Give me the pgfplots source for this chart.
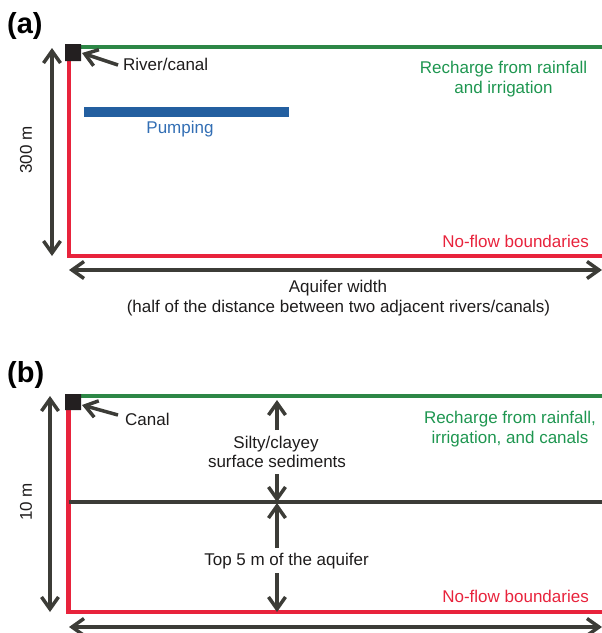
\documentclass[border=0pt]{standalone}
\usepackage{pgfplots}
\pgfplotsset{compat=1.18}
\usepackage{fontspec}
\setmainfont{Liberation Sans}
\usetikzlibrary{arrows.meta}
\definecolor{lgreen}{RGB}{45,135,70}
\definecolor{tgreen}{RGB}{30,150,80}
\definecolor{lred}{RGB}{232,35,60}
\definecolor{lblue}{RGB}{35,95,160}
\definecolor{tblue}{RGB}{50,110,180}
\definecolor{dark}{RGB}{60,60,55}
\definecolor{sq}{RGB}{35,31,32}
\definecolor{txt}{RGB}{30,28,28}
\tikzset{barb/.tip={Straight Barb[length=12pt,width=17pt]},
  lab/.style={font=\fontsize{17}{20}\selectfont, inner sep=0pt, text=txt},
  big/.style={font=\fontsize{29}{32}\selectfont\bfseries, inner sep=0pt, text=black}}
\begin{document}
\begin{tikzpicture}
\begin{axis}[hide axis, scale only axis, width=602pt, height=633pt,
  xmin=0, xmax=602, ymin=0, ymax=633, y dir=reverse, clip=false]
\coordinate (SW) at (axis cs:0,633);
\coordinate (NE) at (axis cs:602,0);
% ---------- panel (a) ----------
\node[big, anchor=base west] at (axis cs:7,33) {(a)};
\addplot[draw=lgreen, line width=4pt] coordinates {(81,47) (602,47)};
\addplot[draw=lred, line width=4.5pt, line join=miter] coordinates {(69,61) (69,256) (602,256)};
\addplot[fill=sq, draw=none] coordinates {(65,44) (81,44) (81,61) (65,61) (65,44)};
\addplot[draw=lblue, line width=10pt] coordinates {(84,112) (289,112)};
\addplot[draw=dark, line width=3.5pt, barb-barb] coordinates {(52,48) (52,256)};
\addplot[draw=dark, line width=3.5pt, barb-barb] coordinates {(69,270) (602,270)};
\addplot[draw=dark, line width=3.5pt, -barb] coordinates {(118,65) (82,53)};
\node[lab, anchor=base west] at (axis cs:123,70) {River/canal};
\node[lab, anchor=base, text=tblue] at (axis cs:180,133) {Pumping};
\node[lab, anchor=base, text=tgreen] at (axis cs:503.5,73) {Recharge from rainfall};
\node[lab, anchor=base, text=tgreen] at (axis cs:503.5,93) {and irrigation};
\node[lab, anchor=base east, text=lred] at (axis cs:589,247) {No-flow boundaries};
\node[lab, rotate=90] at (axis cs:26,150) {300 m};
\node[lab, anchor=base] at (axis cs:338,292) {Aquifer width};
\node[lab, anchor=base] at (axis cs:338.5,312) {(half of the distance between two adjacent rivers/canals)};
% ---------- panel (b) ----------
\node[big, anchor=base west] at (axis cs:7,382) {(b)};
\addplot[draw=lgreen, line width=4pt] coordinates {(81,396) (602,396)};
\addplot[draw=lred, line width=4.5pt, line join=miter] coordinates {(68.5,410) (68.5,612) (602,612)};
\addplot[draw=dark, line width=3.5pt] coordinates {(69,502) (602,502)};
\addplot[fill=sq, draw=none] coordinates {(65,394) (81,394) (81,410) (65,410) (65,394)};
\addplot[draw=dark, line width=3.5pt, barb-barb] coordinates {(50,396) (50,612)};
\addplot[draw=dark, line width=3.5pt, barb-barb] coordinates {(69,627) (602,627)};
\addplot[draw=dark, line width=3.5pt, -barb] coordinates {(118,415) (82,405)};
\addplot[draw=dark, line width=3.5pt, -barb] coordinates {(277,430) (277,400)};
\addplot[draw=dark, line width=3.5pt, -barb] coordinates {(277,474) (277,502)};
\addplot[draw=dark, line width=3.5pt, -barb] coordinates {(277,548) (277,503)};
\addplot[draw=dark, line width=3.5pt, -barb] coordinates {(277,573) (277,612)};
\node[lab, anchor=base west] at (axis cs:125,425) {Canal};
\node[lab, anchor=base, text=tgreen] at (axis cs:510,423) {Recharge from rainfall,};
\node[lab, anchor=base, text=tgreen] at (axis cs:510,443) {irrigation, and canals};
\node[lab, anchor=base] at (axis cs:276,448) {Silty/clayey};
\node[lab, anchor=base] at (axis cs:277,467) {surface sediments};
\node[lab, anchor=base] at (axis cs:286.5,565) {Top 5 m of the aquifer};
\node[lab, anchor=base east, text=lred] at (axis cs:589,602) {No-flow boundaries};
\node[lab, rotate=90] at (axis cs:26,502) {10 m};
\end{axis}
\pgfresetboundingbox
\useasboundingbox (SW) rectangle (NE);
\end{tikzpicture}
\end{document}
